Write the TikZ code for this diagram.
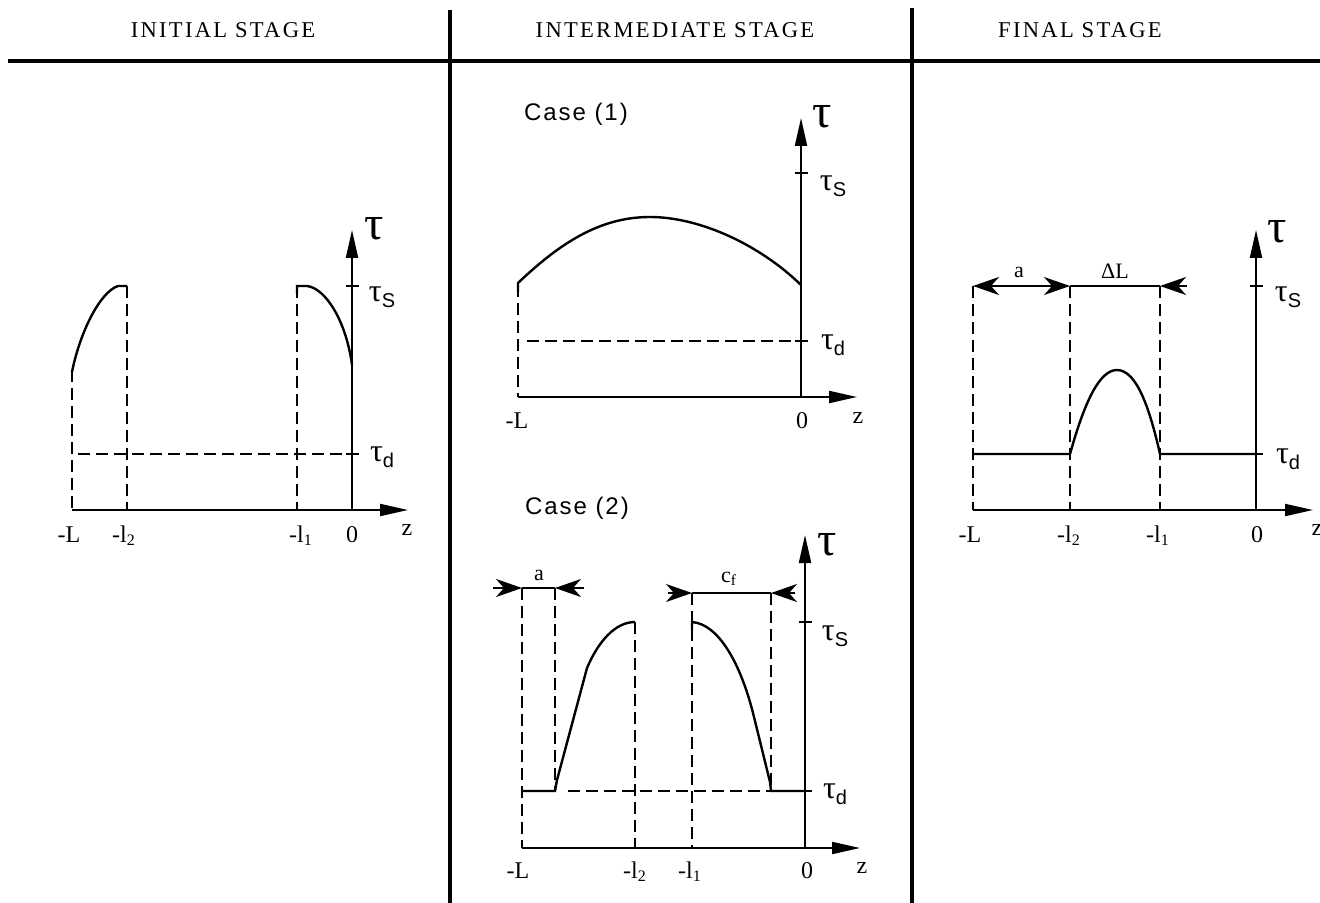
\documentclass[tikz,border=0pt]{standalone}
\usepackage{fontspec}
\setmainfont{Liberation Serif}
\newfontfamily\stagefont[LetterSpace=10]{Liberation Serif}
\newfontfamily\casefont[LetterSpace=8]{Liberation Sans}
\newfontfamily\subfont{Liberation Sans}
\usetikzlibrary{arrows.meta}
\newcommand{\tauidx}[1]{τ\raisebox{-3pt}{\fontsize{10}{10}\subfont #1}}

\begin{document}
\begin{tikzpicture}[x=0.5pt, y=-0.5pt,
    axis/.style={line width=1pt, -{Triangle[length=14pt,width=6pt]}},
    curve/.style={line width=1.2pt},
    guide/.style={line width=0.9pt, dash pattern=on 6pt off 3pt},
    tickmark/.style={line width=0.9pt},
    dim/.style={line width=1pt},
    dimtip/.style={dim, -{Stealth[length=13pt,width=9pt,inset=4pt]}},
    dimboth/.style={dim, {Stealth[length=13pt,width=9pt,inset=4pt]}-{Stealth[length=13pt,width=9pt,inset=4pt]}},
    stage/.style={font=\stagefont\fontsize{11.3}{13}\selectfont},
    case/.style={font=\casefont\fontsize{12}{14}\selectfont},
    zlab/.style={font=\fontsize{12}{14}\selectfont, anchor=base},
    taulab/.style={font=\fontsize{24}{24}\selectfont},
    sublab/.style={font=\fontsize{16}{16}\selectfont},
    dimlab/.style={font=\fontsize{11}{12}\selectfont}
]
\useasboundingbox (0,0) rectangle (1320,903);

% Table frame
\draw[line width=2pt] (8,61) -- (1320,61);
\draw[line width=1.8pt] (450,10) -- (450,903);
\draw[line width=1.8pt] (912,8) -- (912,903);
\node[stage] (hInit) at (223,30) {INITIAL STAGE};
\node[stage] (hInter) at (675,30) {INTERMEDIATE STAGE};
\node[stage] (hFinal) at (1080,30) {FINAL STAGE};

% Initial stage
\draw[guide] (78,454) -- (352,454);
\draw[guide] (72,370) -- (72,510);
\draw[guide] (127,286) -- (127,510);
\draw[guide] (297,286) -- (297,510);
\draw[axis] (72,510) -- (408,510);
\draw[axis] (352,510) -- (352,230);
\draw[tickmark] (346,286) -- (359,286);
\draw[tickmark] (346,454) -- (359,454);
\draw[curve] (72,372) .. controls (80,332) and (100,292) .. (118,286) -- (127,286);
\draw[curve] (297,294) -- (297,286) -- (307,286) .. controls (325,288) and (346,320) .. (352,365);
\node[taulab] (tauI) at (374,229) {τ};
\node[sublab] (tausI) at (382,297) {\tauidx{S}};
\node[sublab] (taudI) at (382,457) {\tauidx{d}};
\node[zlab] (LI) at (69,542) {-L};
\node[zlab] (ltwoI) at (124,542) {-l\textsubscript{2}};
\node[zlab] (loneI) at (301,542) {-l\textsubscript{1}};
\node[zlab] (zeroI) at (352,542) {0};
\node[zlab] (zI) at (407,535) {z};

% Intermediate stage, case (1)
\node[case] (caseA) at (576,114) {Case (1)};
\draw[guide] (527,341) -- (801,341);
\draw[guide] (518,285) -- (518,397);
\draw[axis] (518,397) -- (857,397);
\draw[axis] (801,397) -- (801,118);
\draw[tickmark] (795,173) -- (808,173);
\draw[tickmark] (795,341) -- (808,341);
\draw[curve] (518,292) -- (518,283) .. controls (560,243) and (600,217) .. (650,217) .. controls (700,217) and (760,245) .. (801,285);
\node[taulab] (tauA) at (822,117) {τ};
\node[sublab] (tausA) at (833,186) {\tauidx{S}};
\node[sublab] (taudA) at (833,345) {\tauidx{d}};
\node[zlab] (LA) at (517,428) {-L};
\node[zlab] (zeroA) at (802,428) {0};
\node[zlab] (zA) at (858,423) {z};

% Intermediate stage, case (2)
\node[case] (caseB) at (577,508) {Case (2)};
\draw[guide] (568,791) -- (771,791);
\draw[guide] (522,588) -- (522,848);
\draw[guide] (555,588) -- (555,791);
\draw[guide] (635,622) -- (635,848);
\draw[guide] (692,593) -- (692,848);
\draw[guide] (771,593) -- (771,791);
\draw[axis] (522,848) -- (860,848);
\draw[axis] (805,848) -- (805,535);
\draw[tickmark] (799,622) -- (812,622);
\draw[tickmark] (799,791) -- (812,791);
\draw[curve] (522,791) -- (555,791) -- (557,780) -- (587,668) .. controls (598,642) and (615,622) .. (635,622);
\draw[curve] (692,630) -- (692,622) .. controls (718,624) and (740,662) .. (753,713) -- (770,782) -- (771,791) -- (805,791);
\draw[dim] (522,588) -- (555,588);
\draw[dimtip] (493,588) -- (522,588);
\draw[dimtip] (584,588) -- (555,588);
\draw[dim] (692,593) -- (771,593);
\draw[dimtip] (668,593) -- (692,593);
\draw[dimtip] (795,593) -- (771,593);
\node[dimlab] (aB) at (539,575) {a};
\node[dimlab] (cfB) at (729,579) {c\textsubscript{f}};
\node[taulab] (tauB) at (827,545) {τ};
\node[sublab] (tausB) at (835,636) {\tauidx{S}};
\node[sublab] (taudB) at (835,794) {\tauidx{d}};
\node[zlab] (LB) at (518,878) {-L};
\node[zlab] (ltwoB) at (635,878) {-l\textsubscript{2}};
\node[zlab] (loneB) at (690,878) {-l\textsubscript{1}};
\node[zlab] (zeroB) at (807,878) {0};
\node[zlab] (zB) at (862,873) {z};

% Final stage
\draw[guide] (973,286) -- (973,510);
\draw[guide] (1070,286) -- (1070,510);
\draw[guide] (1160,286) -- (1160,510);
\draw[axis] (973,510) -- (1313,510);
\draw[axis] (1256,510) -- (1256,230);
\draw[tickmark] (1250,286) -- (1263,286);
\draw[tickmark] (1250,454) -- (1263,454);
\draw[curve] (973,454) -- (1070,454) .. controls (1085,400) and (1100,370) .. (1117,370) .. controls (1137,370) and (1150,410) .. (1160,454) -- (1256,454);
\draw[dimboth] (973,286) -- (1070,286);
\draw[dim] (1070,286) -- (1160,286);
\draw[dimtip] (1187,286) -- (1160,286);
\node[dimlab] (aF) at (1019,272) {a};
\node[dimlab] (dLF) at (1115,271) {ΔL};
\node[taulab] (tauF) at (1277,232) {τ};
\node[sublab] (tausF) at (1288,297) {\tauidx{S}};
\node[sublab] (taudF) at (1288,459) {\tauidx{d}};
\node[zlab] (LF) at (970,542) {-L};
\node[zlab] (ltwoF) at (1069,542) {-l\textsubscript{2}};
\node[zlab] (loneF) at (1158,542) {-l\textsubscript{1}};
\node[zlab] (zeroF) at (1257,542) {0};
\node[zlab] (zF) at (1317,535) {z};

\end{tikzpicture}
\end{document}
